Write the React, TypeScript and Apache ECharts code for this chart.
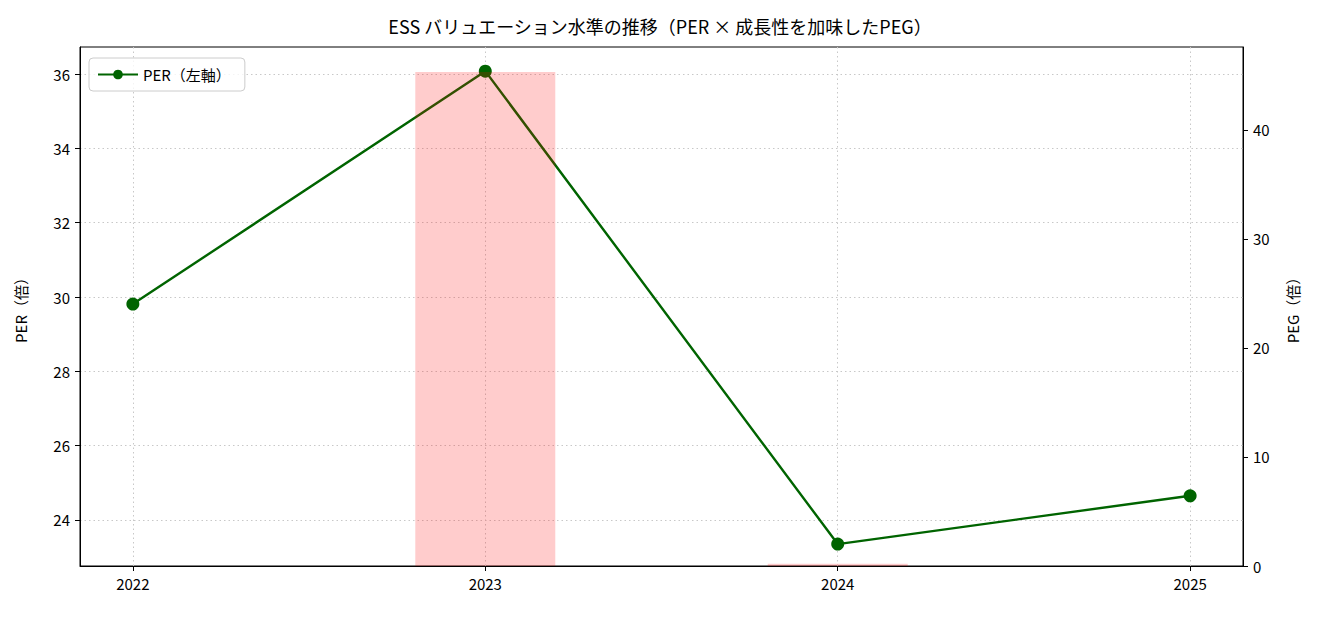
import React, { useEffect, useRef } from 'react';
import * as echarts from 'echarts';

const years = [2022, 2023, 2024, 2025];
const perValues = [29.81, 36.08, 23.35, 24.65];
const pegValues: (number | null)[] = [null, 45.3, 0.2, null];
const perTicks = [24, 26, 28, 30, 32, 34, 36];

const FONT = "'Noto Sans CJK JP', 'Noto Sans', sans-serif";

export default function App() {
  const chartRef = useRef<HTMLDivElement>(null);

  useEffect(() => {
    if (!chartRef.current) return;
    const chart = echarts.init(chartRef.current, null, { renderer: 'svg' });

    const gridLine = { show: true, lineStyle: { color: '#c8c8c8', type: [1.5, 3] as any, width: 1 } };

    const option: echarts.EChartsOption = {
      animation: false,
      backgroundColor: '#fff',
      textStyle: { fontFamily: FONT },
      title: {
        text: 'ESS バリュエーション水準の推移（PER × 成長性を加味したPEG）',
        left: 'center',
        top: 12,
        textStyle: { fontFamily: FONT, fontSize: 18, fontWeight: 'normal', color: '#000' },
      },
      legend: {
        data: ['PER（左軸）'],
        left: 89,
        top: 58,
        orient: 'vertical',
        padding: [9, 14, 9, 8],
        itemWidth: 40,
        itemHeight: 12,
        itemGap: 6,
        borderColor: '#cccccc',
        borderWidth: 1,
        borderRadius: 4,
        backgroundColor: 'rgba(255,255,255,0.8)',
        textStyle: { fontFamily: FONT, fontSize: 15, color: '#000' },
      },
      grid: {
        left: 80,
        right: 77,
        top: 47,
        bottom: 51,
        show: true,
        borderColor: '#000',
        borderWidth: 1,
        backgroundColor: 'transparent',
      },
      xAxis: {
        type: 'value',
        min: 2021.85,
        max: 2025.15,
        axisLine: { show: true, lineStyle: { color: '#000', width: 1 } },
        axisTick: { show: true, customValues: years, length: 5, lineStyle: { color: '#000' } } as any,
        axisLabel: {
          customValues: years,
          color: '#000',
          fontSize: 15,
          margin: 10,
          fontFamily: FONT,
          formatter: (v: number) => String(v),
        } as any,
        splitLine: gridLine,
      },
      yAxis: [
        {
          type: 'value',
          min: 22.76,
          max: 36.73,
          position: 'left',
          name: 'PER（倍）',
          nameLocation: 'middle',
          nameGap: 52,
          nameTextStyle: { color: '#000', fontSize: 15, fontFamily: FONT },
          axisLine: { show: true, lineStyle: { color: '#000' } },
          axisTick: { show: true, customValues: perTicks, length: 5, lineStyle: { color: '#000' } } as any,
          axisLabel: { customValues: perTicks, color: '#000', fontSize: 15, margin: 10, fontFamily: FONT } as any,
          splitLine: gridLine,
        },
        {
          type: 'value',
          min: 0,
          max: 47.6,
          interval: 10,
          position: 'right',
          name: 'PEG（倍）',
          nameLocation: 'middle',
          nameGap: 42,
          nameTextStyle: { color: '#000', fontSize: 15, fontFamily: FONT },
          axisLine: { show: true, lineStyle: { color: '#000' } },
          axisTick: { show: true, length: 5, lineStyle: { color: '#000' } },
          axisLabel: { color: '#000', fontSize: 15, margin: 10, fontFamily: FONT, showMaxLabel: false },
          splitLine: { show: false },
        },
      ],
      series: [
        {
          name: 'PER（左軸）',
          type: 'line',
          yAxisIndex: 0,
          z: 2,
          data: years.map((y, i) => [y, perValues[i]]),
          symbol: 'circle',
          symbolSize: 13,
          lineStyle: { color: '#006400', width: 2.4 },
          itemStyle: { color: '#006400' },
        },
        {
          name: 'PEG',
          type: 'bar',
          yAxisIndex: 1,
          z: 3,
          barWidth: 140,
          data: years.map((y, i) => [y, pegValues[i] === null ? '-' : pegValues[i]]),
          itemStyle: { color: 'rgba(255,0,0,0.2)' },
        },
      ],
    };

    chart.setOption(option);
    return () => chart.dispose();
  }, []);

  return (
    <div
      ref={chartRef}
      style={{ position: 'fixed', left: 0, top: 0, width: 1320, height: 617 }}
    />
  );
}
